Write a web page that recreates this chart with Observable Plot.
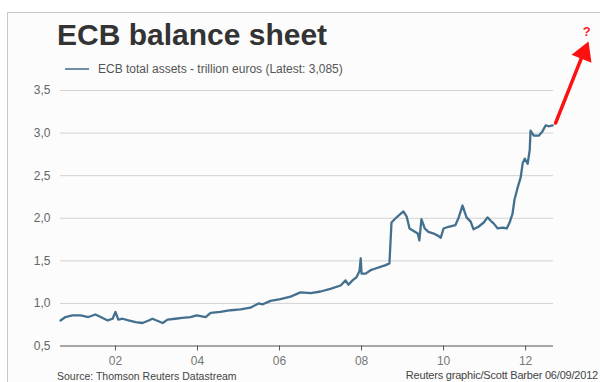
<!DOCTYPE html>
<html><head><meta charset="utf-8">
<script src="https://cdn.jsdelivr.net/npm/d3@7"></script>
<script src="https://cdn.jsdelivr.net/npm/@observablehq/plot@0.6"></script>
<style>
body{margin:0;background:#fff;font-family:"Liberation Sans",Arial,sans-serif;}
#wrap{position:relative;width:600px;height:382px;overflow:hidden;background:#fff;}
#panel{position:absolute;left:7px;top:12px;right:0;bottom:0;background:#fbfcfb;border-left:1px solid #c8c8c8;border-top:1px solid #c8c8c8;}
.t{position:absolute;white-space:nowrap;line-height:1;}
#title{left:57px;top:19.6px;font-weight:bold;font-size:30px;color:#333;}
#legline{position:absolute;left:65px;top:68px;width:24px;height:2px;background:#6f8fa8;}
#legend{left:98px;top:63px;font-size:12px;color:#555;}
#source{left:57px;top:371px;font-size:10.5px;color:#444;}
#credit{right:2px;top:370px;font-size:11px;color:#444;letter-spacing:-0.2px;}
#chart{position:absolute;left:0;top:0;}
</style></head>
<body>
<div id="wrap">
  <div id="panel"></div>
  <div class="t" id="title">ECB balance sheet</div>
  <div id="legline"></div>
  <div class="t" id="legend">ECB total assets - trillion euros (Latest: 3,085)</div>
  <div class="t" id="source">Source: Thomson Reuters Datastream</div>
  <div class="t" id="credit">Reuters graphic/Scott Barber 06/09/2012</div>
  <div id="chart"></div>
</div>
<script>
// Time as decimal years, ECB total assets in trillion euros
const years = [
 2000.66,2000.78,2000.95,2001.15,2001.34,2001.51,2001.64,2001.81,2001.93,2002.00,
 2002.07,2002.17,2002.32,2002.49,2002.66,2002.81,2002.90,2003.05,2003.15,2003.27,
 2003.46,2003.63,2003.83,2003.98,2004.20,2004.32,2004.56,2004.81,2005.05,2005.29,
 2005.49,2005.59,2005.78,2006.02,2006.27,2006.51,2006.76,2007.00,2007.24,2007.49,
 2007.61,2007.68,2007.78,2007.88,2007.95,2007.98,2008.00,2008.10,2008.22,2008.34,
 2008.46,2008.59,2008.68,2008.73,2008.83,2008.95,2009.02,2009.10,2009.17,2009.27,
 2009.37,2009.41,2009.46,2009.54,2009.63,2009.76,2009.88,2009.93,2010.00,2010.12,
 2010.29,2010.37,2010.46,2010.56,2010.66,2010.73,2010.85,2010.98,2011.07,2011.15,
 2011.22,2011.32,2011.44,2011.54,2011.61,2011.68,2011.73,2011.80,2011.88,2011.93,
 2011.98,2012.05,2012.10,2012.12,2012.20,2012.32,2012.41,2012.49,2012.56,2012.66];
const assets = [
 0.80,0.84,0.86,0.86,0.84,0.87,0.84,0.80,0.82,0.90,
 0.81,0.82,0.80,0.78,0.77,0.80,0.82,0.79,0.77,0.81,
 0.82,0.83,0.84,0.86,0.84,0.89,0.90,0.92,0.93,0.95,
 1.00,0.99,1.03,1.05,1.08,1.13,1.12,1.14,1.17,1.21,
 1.27,1.22,1.27,1.31,1.38,1.53,1.35,1.35,1.39,1.41,
 1.43,1.45,1.47,1.95,2.00,2.05,2.08,2.02,1.88,1.85,
 1.82,1.74,1.99,1.88,1.84,1.82,1.79,1.77,1.88,1.90,
 1.92,2.01,2.15,2.01,1.96,1.87,1.90,1.95,2.01,1.97,
 1.94,1.88,1.89,1.88,1.95,2.05,2.22,2.35,2.48,2.65,
 2.70,2.64,2.80,3.03,2.97,2.97,3.02,3.09,3.08,3.09];
const xTicks = [2002, 2004, 2006, 2008, 2010, 2012];
const yTicks = [0.5, 1.0, 1.5, 2.0, 2.5, 3.0, 3.5];
// Red "where next?" arrow: tail, shaft end, head centre, question mark
const arrowYears = [2012.73, 2013.36];
const arrowValues = [3.118, 3.88];
const headYear = [2013.42], headValue = [3.94];
const qYear = [2013.49], qValue = [4.19];

const series = years.map((x, i) => ({x, v: assets[i]}));

const chart = Plot.plot({
  width: 600, height: 382,
  marginLeft: 60, marginRight: 47, marginTop: 90, marginBottom: 36.5,
  style: {background: "transparent", fontFamily: "Liberation Sans, Arial, sans-serif", fontSize: "12px", overflow: "visible"},
  x: {domain: [2000.66, 2012.68]},
  y: {domain: [0.5, 3.5]},
  marks: [
    Plot.ruleY(yTicks.slice(1), {stroke: "#d2d2d2", strokeWidth: 1}),
    Plot.axisY({ticks: yTicks, tickSize: 0, tickPadding: 10, label: null, fill: "#666",
      tickFormat: d => d.toFixed(1).replace(".", ",")}),
    Plot.axisX({ticks: xTicks, tickSize: 5, tickPadding: 5, label: null, fill: "#777", stroke: "#555",
      tickFormat: d => String(d).slice(2)}),
    Plot.ruleY([0.5], {stroke: "#555", strokeWidth: 1.2}),
    Plot.line(series, {x: "x", y: "v", stroke: "#44708f", strokeWidth: 2.3, strokeLinejoin: "round"}),
    Plot.line(arrowYears.map((x, i) => ({x, v: arrowValues[i]})), {x: "x", y: "v", stroke: "#ff1010", strokeWidth: 3.5}),
    Plot.dot(headYear.map((x, i) => ({x, v: headValue[i]})), {x: "x", y: "v", symbol: "triangle", r: 8, fill: "#ff1010", stroke: "none", rotate: 22}),
    Plot.text(qYear.map((x, i) => ({x, v: qValue[i]})), {x: "x", y: "v", text: () => "?", fill: "#ff2020", fontSize: 13, fontWeight: "bold"})
  ]
});
document.getElementById("chart").appendChild(chart);
</script>
</body></html>
